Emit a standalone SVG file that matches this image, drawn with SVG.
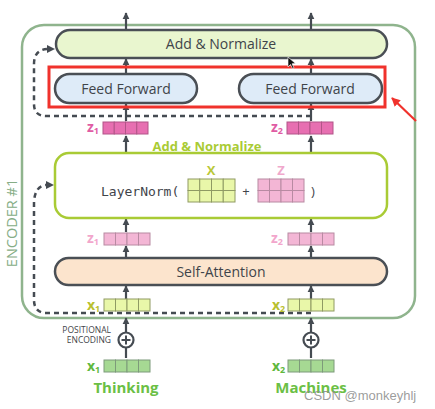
<svg xmlns="http://www.w3.org/2000/svg" width="435" height="409" viewBox="0 0 435 409">
<defs>
<marker id="ah" viewBox="0 0 10 10" refX="9" refY="5" markerWidth="3.2" markerHeight="3.2" orient="auto" markerUnits="strokeWidth">
<path d="M0,0 L10,5 L0,10 Z" fill="#454b52"/>
</marker>
<marker id="ahr" viewBox="0 0 10 10" refX="9" refY="5" markerWidth="4" markerHeight="4" orient="auto" markerUnits="strokeWidth">
<path d="M0,0 L10,5 L0,10 Z" fill="#f0322c"/>
</marker>
<style>
.box{stroke:#4a4f55;stroke-width:2.5}
.lbl{font-family:"Open Sans","Liberation Sans",sans-serif;fill:#3f444a;font-size:14px;text-anchor:middle}
.ar{stroke:#454b52;stroke-width:2.2;fill:none;marker-end:url(#ah)}
.dash{stroke:#454b52;stroke-width:2.5;fill:none;stroke-dasharray:5,4}
.sub{font-family:"Open Sans","Liberation Sans",sans-serif;font-weight:bold}
.cpink{fill:#e76fb1;stroke:#b25588;stroke-width:1}
.lpink{fill:#f3b6d5;stroke:#b88aa2;stroke-width:1}
.lyel{fill:#e9f7a9;stroke:#8f9a63;stroke-width:1}
.grn{fill:#a6d993;stroke:#7d9a7a;stroke-width:1}
</style>
</defs>

<g id="encoder">
<rect x="22" y="25" width="393" height="293" rx="22" fill="none" stroke="#8fb48d" stroke-width="2.5"/>
<text transform="translate(17,223) rotate(-90)" font-family="Open Sans,Liberation Sans,sans-serif" font-size="14.5" fill="#86ad86" text-anchor="middle">ENCODER #1</text>
</g>

<g id="connectors">
<line class="ar" x1="126" y1="30" x2="126" y2="13"/>
<line class="ar" x1="311" y1="30" x2="311" y2="13"/>
<line class="ar" x1="126" y1="74" x2="126" y2="59"/>
<line class="ar" x1="311" y1="74" x2="311" y2="59"/>
<line class="ar" x1="126" y1="121" x2="126" y2="104"/>
<line class="ar" x1="311" y1="121" x2="311" y2="104"/>
<path class="dash" d="M311,116 L46,116 Q34,116 34,104 L34,64 Q34,50 47,49"/>
<path d="M47,45 L55,49 L47,53 Z" fill="#454b52"/>
<line class="ar" x1="126" y1="152" x2="126" y2="136"/>
<line class="ar" x1="311" y1="152" x2="311" y2="136"/>
<line class="ar" x1="126" y1="232" x2="126" y2="219"/>
<line class="ar" x1="311" y1="232" x2="311" y2="219"/>
<line class="ar" x1="126" y1="258" x2="126" y2="246"/>
<line class="ar" x1="311" y1="258" x2="311" y2="246"/>
<line class="ar" x1="126" y1="299" x2="126" y2="286"/>
<line class="ar" x1="311" y1="299" x2="311" y2="286"/>
<path class="dash" d="M311,313 L44,313 Q34,311 34,300 L34,202 Q35,186 46,185"/>
<path d="M46,181 L54,185 L46,189 Z" fill="#454b52"/>
<line class="ar" x1="126" y1="332" x2="126" y2="318"/>
<line class="ar" x1="311" y1="332" x2="311" y2="318"/>
<line x1="126" y1="348" x2="126" y2="358" stroke="#454b52" stroke-width="2.2"/>
<line x1="311" y1="348" x2="311" y2="358" stroke="#454b52" stroke-width="2.2"/>
</g>

<g id="add-normalize-top">
<rect class="box" x="56" y="30" width="331" height="28" rx="14" fill="#e9f6cf"/>
<text class="lbl" x="221" y="49" font-size="13.5">Add &amp; Normalize</text>
</g>

<g id="feed-forward-1">
<rect class="box" x="55" y="74" width="142" height="29" rx="14.5" fill="#deebf8"/>
<text class="lbl" x="126" y="94">Feed Forward</text>
</g>
<g id="feed-forward-2">
<rect class="box" x="239" y="74" width="143" height="29" rx="14.5" fill="#deebf8"/>
<text class="lbl" x="310" y="94">Feed Forward</text>
</g>

<g id="highlight">
<rect x="49" y="67" width="336" height="40" fill="none" stroke="#f0322c" stroke-width="3"/>
<line x1="416" y1="121" x2="392" y2="98" stroke="#f0322c" stroke-width="2.2" marker-end="url(#ahr)"/>
</g>

<g id="z-top-1">
<text class="sub" x="87" y="132" font-size="14" fill="#e05ca4">z<tspan font-size="9" dy="2">1</tspan></text>
<rect class="cpink" x="103" y="122" width="11.25" height="12"/>
<rect class="cpink" x="114.25" y="122" width="11.25" height="12"/>
<rect class="cpink" x="125.5" y="122" width="11.25" height="12"/>
<rect class="cpink" x="136.75" y="122" width="11.25" height="12"/>
</g>
<g id="z-top-2">
<text class="sub" x="271" y="132" font-size="14" fill="#e05ca4">z<tspan font-size="9" dy="2">2</tspan></text>
<rect class="cpink" x="287" y="122" width="11.5" height="12"/>
<rect class="cpink" x="298.5" y="122" width="11.5" height="12"/>
<rect class="cpink" x="310" y="122" width="11.5" height="12"/>
<rect class="cpink" x="321.5" y="122" width="11.5" height="12"/>
</g>

<g id="layernorm">
<text class="sub" x="207" y="151" font-size="13" fill="#a9cb35" text-anchor="middle">Add &amp; Normalize</text>
<rect x="55" y="153" width="332" height="65" rx="14" fill="#fff" stroke="#a9cb35" stroke-width="2.5"/>
<text x="101" y="196" font-family="DejaVu Sans Mono,Liberation Mono,monospace" font-size="13" fill="#3f444a">LayerNorm(</text>
<text class="sub" x="211" y="175" font-size="13" fill="#b9c83a" text-anchor="middle">X</text>
<g class="lyel">
<rect x="188" y="179" width="11.75" height="11.5"/><rect x="199.75" y="179" width="11.75" height="11.5"/><rect x="211.5" y="179" width="11.75" height="11.5"/><rect x="223.25" y="179" width="11.75" height="11.5"/>
<rect x="188" y="190.5" width="11.75" height="11.5"/><rect x="199.75" y="190.5" width="11.75" height="11.5"/><rect x="211.5" y="190.5" width="11.75" height="11.5"/><rect x="223.25" y="190.5" width="11.75" height="11.5"/>
</g>
<text x="246" y="196" font-family="Open Sans,Liberation Sans,sans-serif" font-size="13" fill="#3f444a" text-anchor="middle">+</text>
<text class="sub" x="281" y="175" font-size="13" fill="#f0a8cc" text-anchor="middle">Z</text>
<g class="lpink">
<rect x="258" y="179" width="11.5" height="11.5"/><rect x="269.5" y="179" width="11.5" height="11.5"/><rect x="281" y="179" width="11.5" height="11.5"/><rect x="292.5" y="179" width="11.5" height="11.5"/>
<rect x="258" y="190.5" width="11.5" height="11.5"/><rect x="269.5" y="190.5" width="11.5" height="11.5"/><rect x="281" y="190.5" width="11.5" height="11.5"/><rect x="292.5" y="190.5" width="11.5" height="11.5"/>
</g>
<text x="311" y="196" font-family="Open Sans,Liberation Sans,sans-serif" font-size="13" fill="#3f444a">)</text>
</g>

<g id="z-mid-1">
<text class="sub" x="87" y="243" font-size="14" fill="#f2a6cc">z<tspan font-size="9" dy="2">1</tspan></text>
<g class="lpink"><rect x="104" y="233" width="11.5" height="12"/><rect x="115.5" y="233" width="11.5" height="12"/><rect x="127" y="233" width="11.5" height="12"/><rect x="138.5" y="233" width="11.5" height="12"/></g>
</g>
<g id="z-mid-2">
<text class="sub" x="271" y="243" font-size="14" fill="#f2a6cc">z<tspan font-size="9" dy="2">2</tspan></text>
<g class="lpink"><rect x="288" y="233" width="11.5" height="12"/><rect x="299.5" y="233" width="11.5" height="12"/><rect x="311" y="233" width="11.5" height="12"/><rect x="322.5" y="233" width="11.5" height="12"/></g>
</g>

<g id="self-attention">
<rect class="box" x="55" y="258" width="332" height="27" rx="13.5" fill="#fce4cd"/>
<text class="lbl" x="221" y="277">Self-Attention</text>
</g>

<g id="x-in-1">
<text class="sub" x="87" y="310" font-size="14" fill="#b9c02f">x<tspan font-size="9" dy="2">1</tspan></text>
<g class="lyel"><rect x="104" y="299" width="11.5" height="12"/><rect x="115.5" y="299" width="11.5" height="12"/><rect x="127" y="299" width="11.5" height="12"/><rect x="138.5" y="299" width="11.5" height="12"/></g>
</g>
<g id="x-in-2">
<text class="sub" x="272" y="310" font-size="14" fill="#b9c02f">x<tspan font-size="9" dy="2">2</tspan></text>
<g class="lyel"><rect x="288" y="299" width="11.5" height="12"/><rect x="299.5" y="299" width="11.5" height="12"/><rect x="311" y="299" width="11.5" height="12"/><rect x="322.5" y="299" width="11.5" height="12"/></g>
</g>

<g id="pos-enc-1">
<text font-family="Open Sans,Liberation Sans,sans-serif" font-size="8.5" fill="#3f444a" text-anchor="end"><tspan x="111" y="333">POSITIONAL</tspan><tspan x="111" y="343">ENCODING</tspan></text>
<circle cx="126" cy="340" r="7.5" fill="#fff" stroke="#454b52" stroke-width="2.2"/>
<path d="M121.5,340 H130.5 M126,335.5 V344.5" stroke="#454b52" stroke-width="2"/>
</g>
<g id="pos-enc-2">
<circle cx="311" cy="340" r="7.5" fill="#fff" stroke="#454b52" stroke-width="2.2"/>
<path d="M306.5,340 H315.5 M311,335.5 V344.5" stroke="#454b52" stroke-width="2"/>
</g>

<g id="x-emb-1">
<text class="sub" x="87" y="371" font-size="14" fill="#5fb83e">x<tspan font-size="9" dy="2">1</tspan></text>
<g class="grn"><rect x="104" y="360" width="11.5" height="12"/><rect x="115.5" y="360" width="11.5" height="12"/><rect x="127" y="360" width="11.5" height="12"/><rect x="138.5" y="360" width="11.5" height="12"/></g>
<text class="sub" x="126" y="393" font-size="15" fill="#6bbf45" text-anchor="middle">Thinking</text>
</g>
<g id="x-emb-2">
<text class="sub" x="272" y="371" font-size="14" fill="#5fb83e">x<tspan font-size="9" dy="2">2</tspan></text>
<g class="grn"><rect x="288" y="360" width="11.5" height="12"/><rect x="299.5" y="360" width="11.5" height="12"/><rect x="311" y="360" width="11.5" height="12"/><rect x="322.5" y="360" width="11.5" height="12"/></g>
<text class="sub" x="311" y="393" font-size="15" fill="#6bbf45" text-anchor="middle">Machines</text>
</g>

<g id="watermark">
<text x="304" y="400" font-family="Liberation Sans,Arial,sans-serif" font-size="13" fill="#8a8a8a" fill-opacity="0.85">CSDN @monkeyhlj</text>
</g>

<g id="cursor">
<path d="M288,57 L288,67 L290.5,64.5 L292.5,68.5 L294,67.8 L292,63.8 L295.5,63.5 Z" fill="#111" stroke="#fff" stroke-width="0.6"/>
</g>
</svg>
